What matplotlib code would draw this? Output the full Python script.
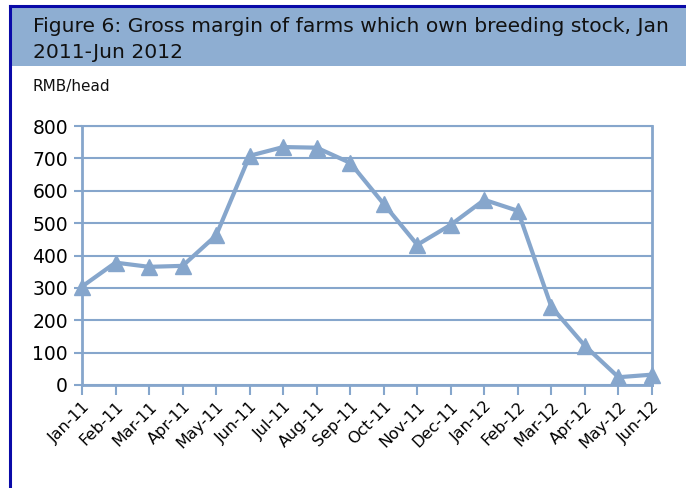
import matplotlib.pyplot as plt
import matplotlib.patches as patches

# Monthly gross margin, RMB per head
months = ['Jan-11', 'Feb-11', 'Mar-11', 'Apr-11', 'May-11', 'Jun-11', 'Jul-11', 'Aug-11', 'Sep-11',
          'Oct-11', 'Nov-11', 'Dec-11', 'Jan-12', 'Feb-12', 'Mar-12', 'Apr-12', 'May-12', 'Jun-12']
margin = [304, 378, 365, 368, 462, 708, 735, 733, 686,
          559, 433, 495, 572, 538, 241, 121, 24, 32]
yticks = [0, 100, 200, 300, 400, 500, 600, 700, 800]

blue = '#86a6cc'
header = '#8eaed2'
border = '#0a0aa8'

fig = plt.figure(figsize=(6.86, 4.88), dpi=100)

# title band and frame
fig.patches.append(patches.Rectangle((11 / 686, 1 - 66 / 488), 1.0, 60 / 488, transform=fig.transFigure,
                                     facecolor=header, edgecolor='none', zorder=0))
fig.add_artist(plt.Line2D([10 / 686, 10 / 686], [0, 1 - 6 / 488], transform=fig.transFigure,
                          color=border, lw=2.2))
fig.add_artist(plt.Line2D([10 / 686, 1], [1 - 6 / 488, 1 - 6 / 488], transform=fig.transFigure,
                          color=border, lw=2.2))
fig.text(33 / 686, 1 - 27 / 488, 'Figure 6: Gross margin of farms which own breeding stock, Jan',
         fontsize=14.6, va='center', ha='left', color='#111111')
fig.text(33 / 686, 1 - 53 / 488, '2011-Jun 2012',
         fontsize=14.6, va='center', ha='left', color='#111111')
fig.text(33 / 686, 1 - 86 / 488, 'RMB/head', fontsize=11, va='center', ha='left', color='#111111')

ax = fig.add_axes([82 / 686, 1 - 385 / 488, 570 / 686, 259 / 488])
x = range(len(months))
ax.plot(x, margin, color=blue, lw=3, marker='^', markersize=12, clip_on=False, zorder=3)

ax.set_xlim(0, len(months) - 1)
ax.set_ylim(0, 800)
ax.set_yticks(yticks)
ax.set_xticks(list(x))
ax.set_xticklabels(months, rotation=45, ha='right', rotation_mode='anchor', fontsize=11.5)
ax.tick_params(axis='y', labelsize=13.5, length=6, width=1.5, color=blue, pad=4)
ax.tick_params(axis='x', length=7, width=1.5, color=blue, pad=3)
ax.grid(axis='y', color=blue, lw=1.5)
ax.set_axisbelow(True)
for side in ['left', 'bottom', 'right']:
    ax.spines[side].set_color(blue)
    ax.spines[side].set_linewidth(2)
ax.spines['top'].set_color(blue)
ax.spines['top'].set_linewidth(1.5)

fig.savefig('out.png', dpi=100)
